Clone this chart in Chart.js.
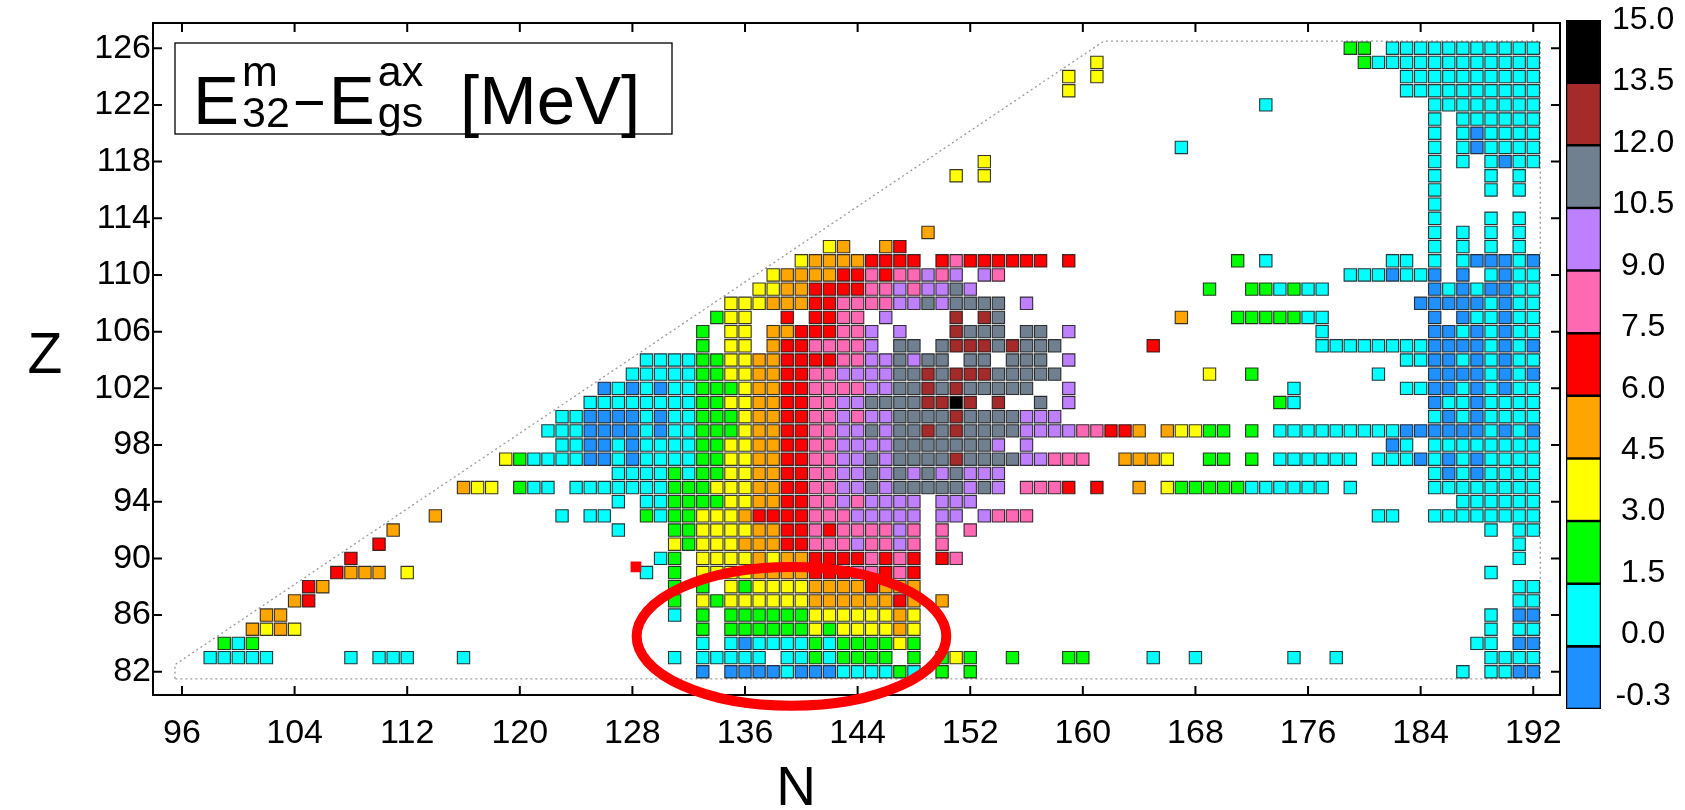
<!DOCTYPE html>
<html>
<head>
<meta charset="utf-8">
<title>E32 - Egs map</title>
<script src="https://cdn.jsdelivr.net/npm/chart.js@4.4.1/dist/chart.umd.min.js"></script>
<style>
  html, body { margin: 0; padding: 0; background: #fff; }
  #wrap { position: relative; width: 1685px; height: 810px; overflow: hidden; }
  #mapChart { position: absolute; left: 0; top: 0; }
  #scaleBar { position: absolute; left: 1560px; top: 0; }
</style>
</head>
<body>
<div id="wrap">
  <canvas id="mapChart" width="1685" height="810"></canvas>
  <canvas id="scaleBar" width="125" height="810"></canvas>
</div>
<script>
// colour classes: code letter, class edges (MeV) and fill colours
const binCodes = ['b', 'c', 'g', 'y', 'o', 'r', 'p', 'v', 's', 'm', 'k'];
const binEdges = [-0.3, 0, 1.5, 3, 4.5, 6, 7.5, 9, 10.5, 12, 13.5, 15];
const binColors = ['#1e90ff', '#00ffff', '#00ff00', '#ffff00', '#ffa500', '#ff0000',
                   '#ff69b4', '#bf80ff', '#708090', '#a52a2a', '#000000'];

// axis ticks
const nTicks = [96, 104, 112, 120, 128, 136, 144, 152, 160, 168, 176, 184, 192];
const zTicks = [82, 86, 90, 94, 98, 102, 106, 110, 114, 118, 122, 126];

// map cells: [Z, first N, one letter per N ('.' = no nucleus)]
const cellRuns = [
  [82, 133, 'b.bbbbcbbbccccgc.g.g'],
  [82, 187, 'c.ccbb'],
  [83, 98, 'ccccc.....c.ccc...c'],
  [83, 131, 'c.ccccc.ccgcgggg.g.gyg..g...gg'],
  [83, 165, 'c..c......c..c'],
  [83, 189, 'cccc'],
  [84, 99, 'gcg'],
  [84, 133, 'c.cbccccgcggggyg'],
  [84, 188, 'cc.bb'],
  [85, 101, 'oyoy'],
  [85, 133, 'g.ggggggygyyyyoy'],
  [85, 189, 'c.cc'],
  [86, 102, 'oo'],
  [86, 131, 'c.g.ggggggyyyyyyoy'],
  [86, 189, 'c.bb'],
  [87, 104, 'or'],
  [87, 131, 'g.ygyyyyyyooooooro.o'],
  [87, 191, 'cc'],
  [88, 105, 'ro'],
  [88, 131, 'g.g.ygyyyyoooorooo'],
  [88, 191, 'cc'],
  [89, 107, 'rooo.y'],
  [89, 129, 'c.g.yyyyoooorrrpprpr'],
  [89, 189, 'c'],
  [90, 108, 'r'],
  [90, 130, 'cg.yyyyoyoorrrrprpr.rp'],
  [90, 191, 'c'],
  [91, 110, 'r'],
  [91, 131, 'ygyyyooorrpppvppvp.p'],
  [91, 191, 'c'],
  [92, 111, 'o'],
  [92, 127, 'c...ggyyyyoorrprppppvp.p.p'],
  [92, 189, 'c.cc'],
  [93, 114, 'o'],
  [93, 123, 'c.cc..gcggyyyorrrrpppvvvvv.vv.vppp'],
  [93, 181, 'cc..cccccccc'],
  [94, 127, 'c.ccggggyyoorrppvpvvvv.vvv'],
  [94, 187, 'cccccc'],
  [95, 116, 'oyy.gcc.ccccccc'],
  [95, 131, 'gggyyyoorrppvvsvsssssvsv'],
  [95, 156, 'pppr.r..o.ygggggcccccc.c'],
  [95, 185, 'cccccccc'],
  [96, 127, 'ccccgcggyyoorrppvvsvsvsvsvvv'],
  [96, 185, 'cbcbcccc'],
  [97, 119, 'ygccccbbcbccc'],
  [97, 132, 'cggyyoorrppvvsvssssmssssvvppp..oooy'],
  [97, 169, 'gg.g.cccccc.cccbcbcbcccc'],
  [98, 123, 'ccbbcbccc'],
  [98, 132, 'cggyyoorrppvvvvsssssssv.v'],
  [98, 182, 'bc.cccccccc'],
  [99, 122, 'cccbbbbcbc'],
  [99, 132, 'cgggyoorrppvvsvssmsmssssvvvvpprr'],
  [99, 164, 'o.oyygg.g.cccccccccbbbbbbcbcb'],
  [100, 123, 'ccbbbbcbc'],
  [100, 132, 'cgggyoorrppvpvvssssmssssvvv'],
  [100, 185, 'cbcbcccc'],
  [101, 125, 'ccccccc'],
  [101, 132, 'cggyyoorrppvvssssmmkm.m..s.v'],
  [101, 174, 'gc'],
  [101, 185, 'bccbcccc'],
  [102, 126, 'bcbcbc'],
  [102, 132, 'cgggyoorrppppvvssmsmsssss..v'],
  [102, 175, 'c'],
  [102, 183, 'ccbbcbcbcc'],
  [103, 128, 'cccc'],
  [103, 132, 'cggyyoorrppvvvvssmsmmmsssss'],
  [103, 169, 'y..g'],
  [103, 181, 'c...bbbbcbcb'],
  [104, 129, 'cccc'],
  [104, 133, 'ggyyoorrrrppvvsvss.ss.sss.v'],
  [104, 183, 'ccbbcbcbcc'],
  [105, 133, 'g.yy.orrppppv.ss.smmmsmsss'],
  [105, 165, 'r'],
  [105, 177, 'ccccccccbbbbcbcb'],
  [106, 133, 'g.yy.oorrrppv.v...msss.ss.v'],
  [106, 177, 'c.......bbcbcbcc'],
  [107, 134, 'gyy..r.rrpp.v....m.ms'],
  [107, 167, 'o...gggggcc'],
  [107, 185, 'b.bccbcc'],
  [108, 135, 'yyyooorrppppvvsvssss.v'],
  [108, 184, 'bbbbbcbcc'],
  [109, 137, 'yyoorrrrppvpvvsv'],
  [109, 169, 'g..ggcgcc'],
  [109, 185, 'bcbcbbcc'],
  [110, 138, 'yoooorrprppvpv.vp'],
  [110, 179, 'cccbccb.b.cbcc'],
  [111, 140, 'yoooorrrr.rprrrrrr.r'],
  [111, 171, 'g.c'],
  [111, 182, 'cc.c.cbbbcb'],
  [112, 142, 'yo..or'],
  [112, 185, 'c.c.c.c'],
  [113, 149, 'o'],
  [113, 185, 'c.c.c.c'],
  [114, 185, 'c...c.c'],
  [115, 185, 'c'],
  [116, 185, 'c...c.c'],
  [117, 151, 'y.y'],
  [117, 185, 'c...c.c'],
  [118, 153, 'y'],
  [118, 185, 'c.c.cbcc'],
  [119, 167, 'c'],
  [119, 185, 'c.cbcccc'],
  [120, 185, 'c.cbcccc'],
  [121, 185, 'c.cccccc'],
  [122, 173, 'c'],
  [122, 185, 'cccccccc'],
  [123, 159, 'y'],
  [123, 183, 'cccccccccc'],
  [124, 159, 'y.y'],
  [124, 183, 'cccccccccc'],
  [125, 161, 'y'],
  [125, 180, 'gcccccccccccc'],
  [126, 179, 'gg.ccccccccccc']
];

// outline of the calculated region
const outlineN = [95.5, 95.5, 161.5, 192.5, 192.5, 95.5];
const outlineZ = [81.5, 82.5, 126.5, 126.5, 81.5, 81.5];

// two small red markers
const markN = [128.25, 150.26];
const markZ = [89.4, 79.3];

const FONT = '"Liberation Sans", Arial, Helvetica, sans-serif';
Chart.defaults.font.family = FONT;
Chart.defaults.color = '#000';

// one scatter dataset per colour class
const cellSets = binCodes.map(() => []);
cellRuns.forEach(([z, n0, codes]) => {
    for (let i = 0; i < codes.length; i++) {
        const k = binCodes.indexOf(codes[i]);
        if (k < 0) continue;
        cellSets[k].push({ x: n0 + i, y: z, v: (binEdges[k] + binEdges[k + 1]) / 2 });
    }
});

function cellRadius(chart) {
    const x = chart.scales.x;
    const pitch = Math.abs(x.getPixelForValue(1) - x.getPixelForValue(0));
    return pitch * 0.875 / Math.SQRT2;
}

const datasets = cellSets.map((pts, k) => ({
    type: 'scatter',
    data: pts,
    pointStyle: 'rect',
    pointRadius: (c) => cellRadius(c.chart),
    backgroundColor: binColors[k],
    borderColor: 'rgba(20, 20, 20, 0.85)',
    borderWidth: 1.1,
    order: 1
}));

datasets.push({
    type: 'line',
    data: outlineN.map((n, i) => ({ x: n, y: outlineZ[i] })),
    borderColor: '#9a9a9a',
    borderWidth: 1.3,
    borderDash: [2, 3],
    pointRadius: 0,
    fill: false,
    tension: 0,
    order: 5
});

datasets.push({
    type: 'scatter',
    data: markN.map((n, i) => ({ x: n, y: markZ[i] })),
    pointStyle: 'rect',
    pointRadius: 7.6,
    backgroundColor: '#ff0000',
    borderWidth: 0,
    clip: false,
    order: 0
});

// ellipse around the Z = 82-88, N = 128-150 region
const ring = { n: 139.3, z: 84.5, rn: 11.0, rz: 4.9 };

function drawTitleBox(ctx) {
    const L = 175, T = 43, R = 672, B = 134;
    ctx.fillStyle = '#fff';
    ctx.fillRect(L, T, R - L, B - T);
    ctx.strokeStyle = '#000';
    ctx.lineWidth = 1.3;
    ctx.strokeRect(L, T, R - L, B - T);

    const big = '69px ' + FONT, small = '43px ' + FONT;
    const base = 124, supBase = 86, subBase = 127;
    ctx.fillStyle = '#000';
    ctx.textAlign = 'left';
    ctx.textBaseline = 'alphabetic';
    let x = 193;
    ctx.font = big;
    ctx.fillText('E', x, base);
    x += ctx.measureText('E').width + 3;
    ctx.font = small;
    ctx.fillText('m', x, supBase);
    ctx.fillText('32', x, subBase);
    x += Math.max(ctx.measureText('m').width, ctx.measureText('32').width) + 6;
    // minus sign
    ctx.fillRect(x, 101, 27, 4);
    x += 33;
    ctx.font = big;
    ctx.fillText('E', x, base);
    x += ctx.measureText('E').width + 3;
    ctx.font = small;
    ctx.fillText('ax', x, supBase);
    ctx.fillText('gs', x, subBase);
    ctx.font = big;
    ctx.fillText('[MeV]', 460, base);
}

const decorPlugin = {
    id: 'decor',
    afterDatasetsDraw(chart) {
        const { ctx, chartArea: a, scales: { x, y } } = chart;
        ctx.save();

        // frame with inward ticks on all four sides
        ctx.strokeStyle = '#000';
        ctx.lineWidth = 2;
        ctx.strokeRect(a.left, a.top, a.right - a.left, a.bottom - a.top);
        ctx.beginPath();
        nTicks.forEach(v => {
            const px = x.getPixelForValue(v);
            ctx.moveTo(px, a.bottom); ctx.lineTo(px, a.bottom - 9);
            ctx.moveTo(px, a.top); ctx.lineTo(px, a.top + 9);
        });
        zTicks.forEach(v => {
            const py = y.getPixelForValue(v);
            ctx.moveTo(a.left, py); ctx.lineTo(a.left + 9, py);
            ctx.moveTo(a.right, py); ctx.lineTo(a.right - 9, py);
        });
        ctx.stroke();

        // red ellipse
        const cx = x.getPixelForValue(ring.n), cy = y.getPixelForValue(ring.z);
        const rx = Math.abs(x.getPixelForValue(ring.n + ring.rn) - cx);
        const ry = Math.abs(y.getPixelForValue(ring.z + ring.rz) - cy);
        ctx.beginPath();
        ctx.ellipse(cx, cy, rx, ry, 0, 0, Math.PI * 2);
        ctx.strokeStyle = '#ff0000';
        ctx.lineWidth = 10;
        ctx.stroke();

        drawTitleBox(ctx);

        // axis titles
        ctx.fillStyle = '#000';
        ctx.textAlign = 'center';
        ctx.textBaseline = 'middle';
        ctx.font = '57px ' + FONT;
        ctx.fillText('Z', 45, (a.top + a.bottom) / 2 - 2);
        ctx.font = '55px ' + FONT;
        ctx.fillText('N', 796, 790);
        ctx.restore();
    }
};

new Chart(document.getElementById('mapChart'), {
    type: 'scatter',
    data: { datasets },
    options: {
        responsive: false,
        animation: false,
        events: [],
        layout: { padding: { left: 0, top: 23, right: 125, bottom: 0 } },
        plugins: { legend: { display: false }, tooltip: { enabled: false } },
        scales: {
            x: {
                type: 'linear',
                min: 93.94,
                max: 193.9,
                afterBuildTicks: s => { s.ticks = nTicks.map(v => ({ value: v })); },
                afterFit: s => { s.height = 115; },
                grid: { display: false, drawTicks: false },
                border: { display: false },
                ticks: { font: { size: 34 }, padding: 18, maxRotation: 0, autoSkip: false }
            },
            y: {
                type: 'linear',
                min: 80.36,
                max: 127.78,
                afterBuildTicks: s => { s.ticks = zTicks.map(v => ({ value: v })); },
                afterFit: s => { s.width = 153; },
                grid: { display: false, drawTicks: false },
                border: { display: false },
                ticks: { font: { size: 34 }, padding: 2, autoSkip: false }
            }
        }
    },
    plugins: [decorPlugin]
});

// colour scale on the right: one floating bar per class,
// labels on a second axis that runs slightly shorter than the bar
new Chart(document.getElementById('scaleBar'), {
    type: 'bar',
    data: {
        labels: [''],
        datasets: binColors.map((c, k) => ({
            data: [[k, k + 1]],
            backgroundColor: c,
            borderColor: '#000',
            borderWidth: 1.6,
            borderSkipped: false,
            barPercentage: 1,
            categoryPercentage: 1,
            grouped: false
        }))
    },
    options: {
        responsive: false,
        animation: false,
        events: [],
        layout: { padding: { left: 6, top: 20, right: 0, bottom: 101 } },
        plugins: { legend: { display: false }, tooltip: { enabled: false } },
        scales: {
            x: { display: false },
            y: { display: false, min: 0, max: binCodes.length },
            yLabels: {
                position: 'right',
                min: -0.211,
                max: binCodes.length,
                afterBuildTicks: s => { s.ticks = binEdges.map((e, i) => ({ value: i })); },
                afterFit: s => {
                    s.width = 84;
                    s.paddingTop = 0;
                    s.paddingBottom = 0;
                },
                grid: { display: false, drawTicks: false },
                border: { display: false },
                ticks: {
                    font: { size: 32 },
                    padding: 11,
                    crossAlign: 'center',
                    autoSkip: false,
                    callback: v => binEdges[v].toFixed(1)
                }
            }
        }
    }
});
</script>
</body>
</html>
